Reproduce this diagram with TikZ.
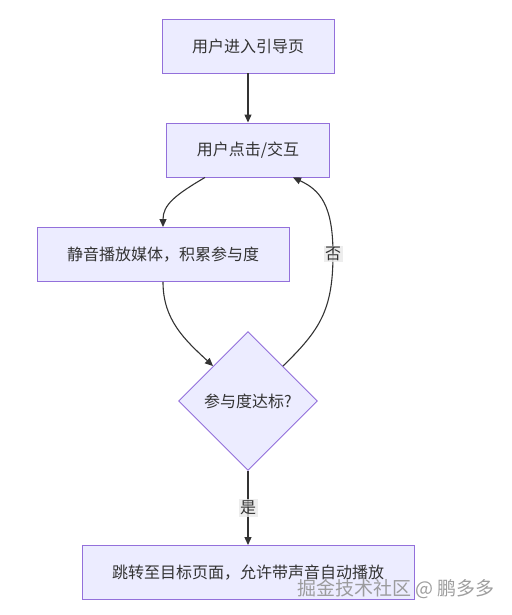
\documentclass[tikz,border=0pt]{standalone}
\usepackage{fontspec}
\setmainfont{Noto Sans CJK SC}
\usetikzlibrary{shapes.geometric,arrows.meta}
\definecolor{boxfill}{HTML}{ECECFF}
\definecolor{boxline}{HTML}{9370DB}
\definecolor{ink}{HTML}{333333}
\definecolor{labelbg}{HTML}{E8E8E8}
\begin{document}
\begin{tikzpicture}[x=1pt,y=-1pt,
  font=\fontsize{16}{19}\selectfont, text=ink,
  stepbox/.style={draw=boxline, fill=boxfill, line width=0.9pt,
    minimum height=54pt, inner xsep=30pt},
  checkbox/.style={diamond, draw=boxline, fill=boxfill, line width=0.9pt,
    minimum width=139pt, minimum height=139pt, inner sep=0pt},
  flow/.style={draw=ink, line width=1.1pt,
    -{Triangle[length=8pt,width=7pt]}},
  edgelabel/.style={fill=labelbg, fill opacity=0.8, text opacity=1,
    inner sep=1.5pt}]
\useasboundingbox (0,0) rectangle (511,615);
% nodes
\node[stepbox] (enter) at (248,46) {用户进入引导页};
\node[stepbox] (click) at (248,150) {用户点击/交互};
\node[stepbox] (mute) at (163,254.5) {静音播放媒体，积累参与度};
\node[checkbox] (check) at (248,401) {参与度达标?};
\node[stepbox] (jump) at (248,572.5) {跳转至目标页面，允许带声音自动播放};
% connectors
\draw[flow] (enter) -- (click);
\draw[flow] ([xshift=-43pt]click.south) .. controls (175,195) and (163,205) .. (mute.north);
\draw[flow] (mute.south) .. controls (163,320) and (185,340) .. (check.north west);
\draw[flow] (check.north east) .. controls (320,330) and (333,310) .. (333,254)
  node[edgelabel] {否}
  .. controls (333,205) and (320,190) .. ([xshift=45pt]click.south);
\draw[flow] (check) -- (jump) node[pos=0.5, edgelabel] {是}; % yes
% watermark
\node[text=gray!85, font=\fontsize{19}{22}\selectfont, opacity=0.9] (mark) at (396,589) {掘金技术社区 @ 鹏多多};
\end{tikzpicture}
\end{document}
